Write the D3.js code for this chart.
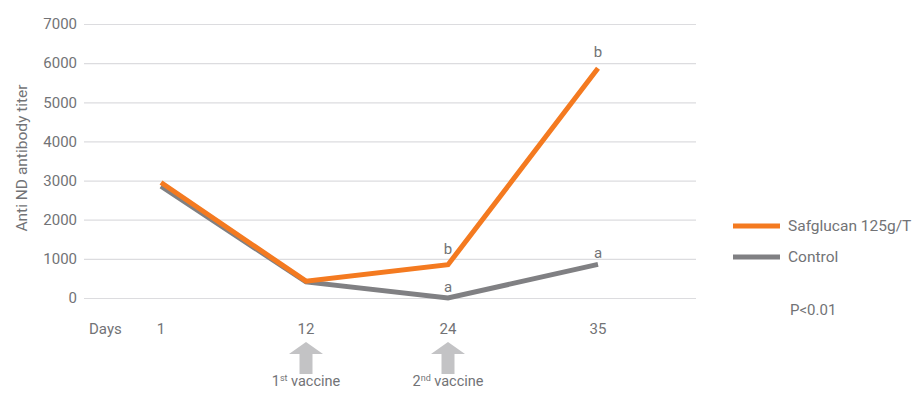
<html>
<head>
    <title>Anti ND antibody titer</title>
    <script src="https://cdn.jsdelivr.net/npm/d3@7"></script>
    <style type="text/css">
        body { margin: 0; background: #fff; }
        text { font-family: Roboto, "Open Sans", sans-serif; fill: #727376; }
        .grid line { stroke: #dcdcdf; stroke-width: 1.2; }
    </style>
</head>
<body>
    <script type="text/javascript">
        var w = 921;
        var h = 397;

        var days = ["1", "12", "24", "35"];
        var safglucan = [2950, 430, 850, 5870];
        var control = [2860, 410, 0, 860];
        var safLetters = ["", "", "b", "b"];
        var ctrlLetters = ["", "", "a", "a"];
        var yTicks = [0, 1000, 2000, 3000, 4000, 5000, 6000, 7000];
        var vaccines = [["12", "1", "st"], ["24", "2", "nd"]];

        var orange = "#f47a20";
        var grey = "#808083";

        // the days sit at uneven spacing in the original
        var xScale = d3.scaleOrdinal()
            .domain(days)
            .range([161, 306, 448, 598]);

        var yScale = d3.scaleLinear()
            .domain([0, 7000])
            .range([298, 24]);

        var svg = d3.select("body")
            .append("svg")
            .attr("width", w)
            .attr("height", h);

        // gridlines + y labels
        var yAxis = d3.axisLeft(yScale)
            .tickValues(yTicks)
            .tickSize(-612)
            .tickPadding(7)
            .tickFormat(d3.format("d"));
        var gy = svg.append("g")
            .attr("class", "grid")
            .attr("transform", "translate(84,0)")
            .call(yAxis);
        gy.select(".domain").remove();
        gy.selectAll("text")
            .attr("font-size", "15px")
            .style("font-family", "Roboto, sans-serif")
            .attr("fill", "#727376");

        // x labels
        svg.selectAll(".xlab")
            .data(days)
            .enter()
            .append("text")
            .attr("class", "xlab")
            .attr("x", function(d) { return xScale(d); })
            .attr("y", 334)
            .attr("text-anchor", "middle")
            .attr("font-size", "15px")
            .text(function(d) { return d; });

        svg.append("text")
            .attr("x", 89)
            .attr("y", 334)
            .attr("font-size", "15px")
            .text("Days");

        svg.append("text")
            .attr("transform", "translate(27,158) rotate(-90)")
            .attr("text-anchor", "middle")
            .attr("font-size", "15.5px")
            .text("Anti ND antibody titer");

        var line = d3.line()
            .x(function(d, i) { return xScale(days[i]); })
            .y(function(d) { return yScale(d); });

        svg.append("path")
            .datum(control)
            .attr("d", line)
            .attr("fill", "none")
            .attr("stroke", grey)
            .attr("stroke-width", 5);

        svg.append("path")
            .datum(safglucan)
            .attr("d", line)
            .attr("fill", "none")
            .attr("stroke", orange)
            .attr("stroke-width", 5);

        // significance letters
        function letters(vals, labs, off) {
            svg.selectAll(null)
                .data(vals)
                .enter()
                .append("text")
                .attr("x", function(d, i) { return xScale(days[i]); })
                .attr("y", function(d) { return yScale(d) - off; })
                .attr("text-anchor", "middle")
                .attr("font-size", "15px")
                .text(function(d, i) { return labs[i]; });
        }
        letters(safglucan, safLetters, 11);
        letters(control, ctrlLetters, 6);

        // vaccine arrows
        var arrows = svg.selectAll(".vac")
            .data(vaccines)
            .enter()
            .append("g")
            .attr("transform", function(d) { return "translate(" + xScale(d[0]) + ",0)"; });
        arrows.append("path")
            .attr("d", "M0,342 L-17,354 L-6.5,354 L-6.5,374 L6.5,374 L6.5,354 L17,354 Z")
            .attr("fill", "#c3c3c5");
        var vt = arrows.append("text")
            .attr("y", 386)
            .attr("text-anchor", "middle")
            .attr("font-size", "14.5px");
        vt.append("tspan").text(function(d) { return d[1]; });
        vt.append("tspan")
            .attr("font-size", "9px")
            .attr("dy", -5)
            .text(function(d) { return d[2]; });
        vt.append("tspan")
            .attr("dy", 5)
            .text(" vaccine");

        // legend
        var legend = [["Safglucan 125g/T", orange], ["Control", grey]];
        var lg = svg.selectAll(".lg")
            .data(legend)
            .enter()
            .append("g")
            .attr("transform", function(d, i) { return "translate(733," + (226 + i * 31) + ")"; });
        lg.append("line")
            .attr("x1", 0)
            .attr("x2", 47)
            .attr("stroke", function(d) { return d[1]; })
            .attr("stroke-width", 5);
        lg.append("text")
            .attr("x", 55)
            .attr("y", 5)
            .attr("font-size", "15.5px")
            .text(function(d) { return d[0]; });

        svg.append("text")
            .attr("x", 790)
            .attr("y", 315)
            .attr("font-size", "15px")
            .text("P<0.01");
    </script>
</body>
</html>
